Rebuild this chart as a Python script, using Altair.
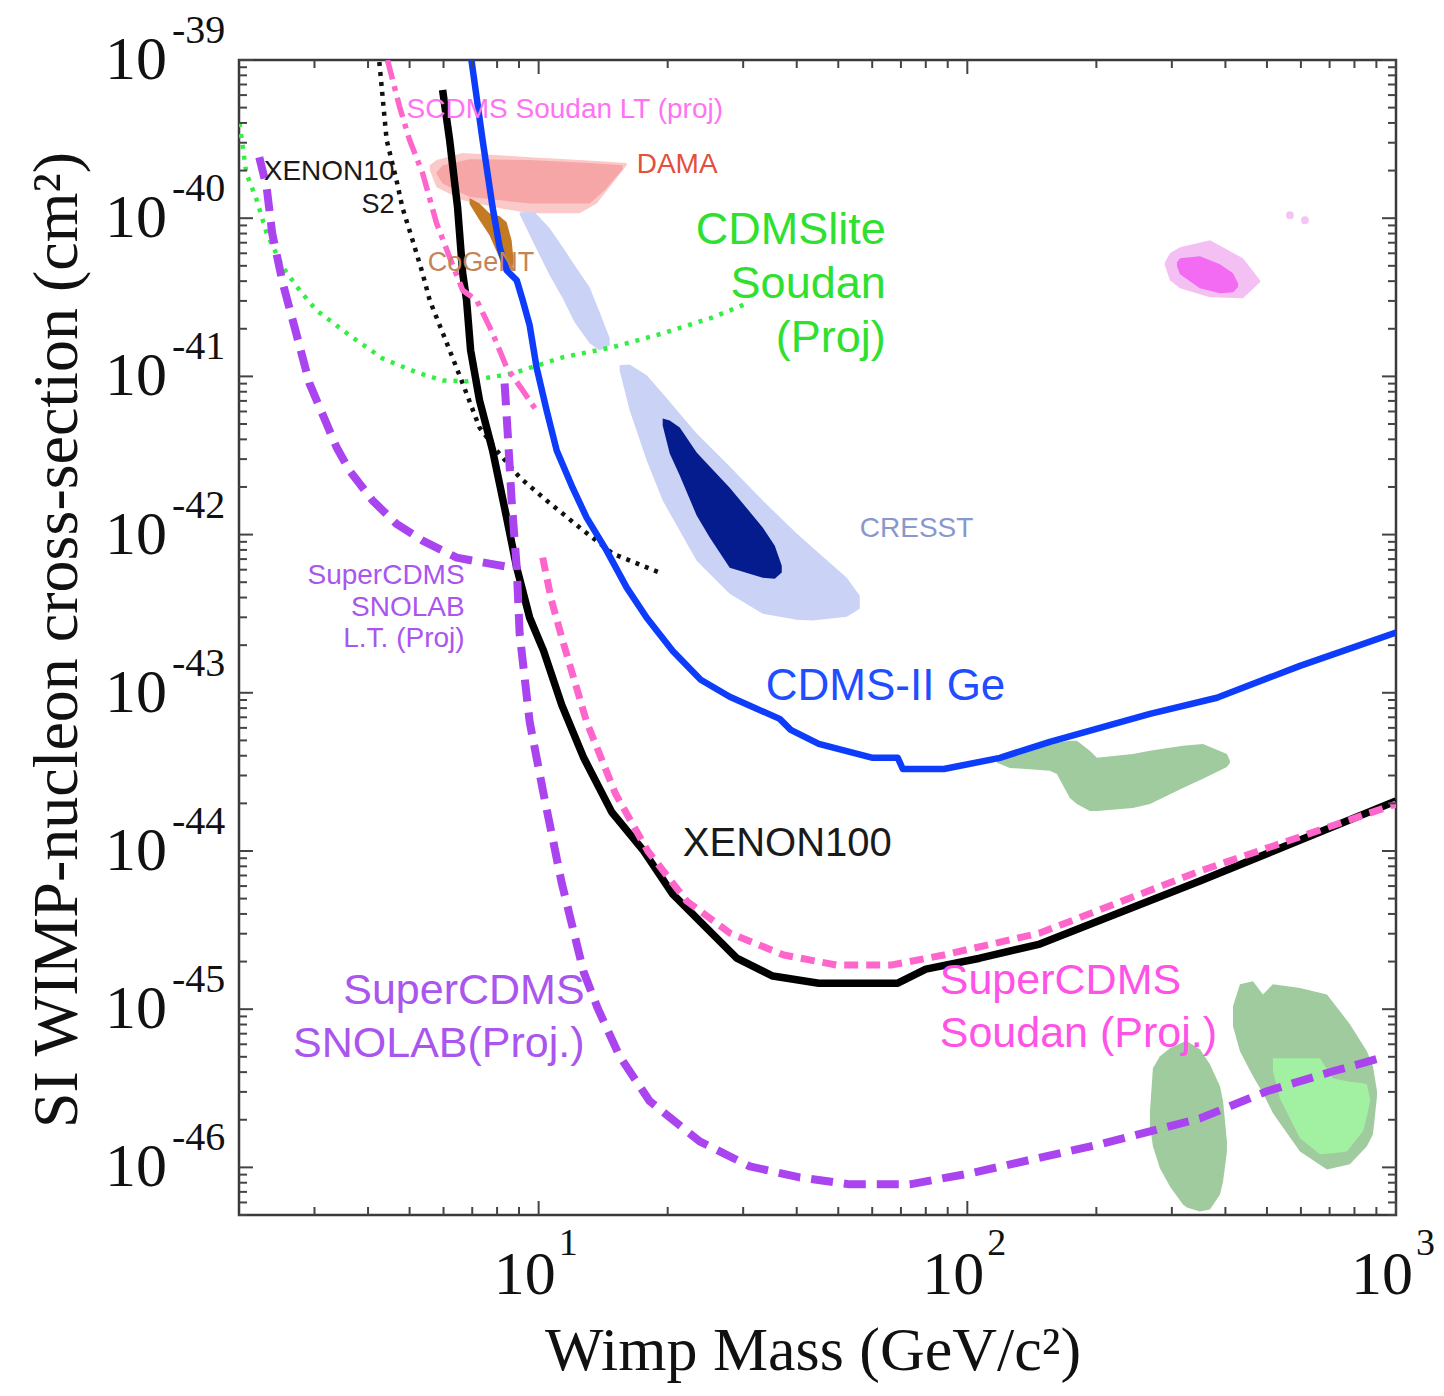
import altair as alt
import pandas as pd

# ---------------- curves: WIMP mass (GeV/c^2) and cross-section (cm^2) ----------------
cdms_ge_mass = [6.97, 7.40, 7.81, 8.11, 8.42, 8.89, 9.18, 9.53, 9.89, 10.44, 11.02, 12.00, 12.94, 14.41,
                16.05, 17.87, 20.55, 23.88, 27.91, 36.51, 38.73, 45.03, 60.18, 68.83, 70.70, 88.15, 119.1,
                155.8, 266.7, 382.2, 597.0, 1000.0]
cdms_ge_sigma = [1.0e-39, 3.12e-40, 1.17e-40, 6.55e-41, 4.69e-41, 4.05e-41, 3.03e-41, 2.10e-41, 1.14e-41,
                 6.09e-42, 3.40e-42, 1.98e-42, 1.28e-42, 7.92e-43, 4.62e-43, 2.98e-43, 1.84e-43, 1.21e-43,
                 9.43e-44, 6.84e-44, 5.83e-44, 4.75e-44, 3.88e-44, 3.88e-44, 3.30e-44, 3.30e-44, 3.88e-44,
                 4.90e-44, 7.36e-44, 9.30e-44, 1.48e-43, 2.40e-43]

xenon100_mass = [5.97, 6.20, 6.47, 6.65, 6.79, 6.94, 7.28, 7.81, 8.42, 8.89, 9.53, 10.27, 11.32, 12.74,
                 14.81, 17.58, 20.55, 23.88, 28.98, 35.17, 45.03, 68.83, 80.03, 106.9, 147.6, 348.8, 1000.0]
xenon100_sigma = [6.46e-40, 3.12e-40, 1.17e-40, 4.49e-41, 3.03e-41, 1.46e-41, 7.05e-42, 3.40e-42, 1.28e-42,
                  6.18e-43, 2.98e-43, 1.84e-43, 8.39e-44, 3.88e-44, 1.76e-44, 1.0e-44, 5.34e-45, 3.55e-45,
                  2.10e-45, 1.62e-45, 1.46e-45, 1.46e-45, 1.79e-45, 2.10e-45, 2.58e-45, 6.46e-45, 2.07e-44]

scdms_soudan_mass = [10.22, 10.72, 11.38, 12.94, 15.12, 17.97, 22.15, 27.91, 37.31, 49.59, 66.29, 88.15,
                     147.6, 348.8, 1000.0]
scdms_soudan_sigma = [7.15e-43, 3.82e-43, 2.13e-43, 6.55e-44, 2.29e-44, 1.0e-44, 4.83e-45, 3.03e-45,
                      2.20e-45, 1.90e-45, 1.90e-45, 2.20e-45, 3.03e-45, 7.47e-45, 1.98e-44]

scdms_lt_mass = [4.44, 4.74, 5.00, 5.36, 5.78, 6.20, 6.65, 7.17, 7.81, 8.42, 9.18, 9.95]
scdms_lt_sigma = [1.0e-39, 5.04e-40, 3.12e-40, 1.93e-40, 9.30e-41, 5.66e-41, 3.50e-41, 3.03e-41, 1.87e-41,
                  1.14e-41, 8.15e-42, 5.92e-42]

xenon10_mass = [4.25, 4.42, 4.66, 4.81, 5.08, 5.36, 5.57, 6.07, 6.65, 7.28, 7.98, 9.03, 10.44, 12.46,
                14.89, 19.16]
xenon10_sigma = [9.71e-40, 3.12e-40, 1.74e-40, 1.17e-40, 7.26e-41, 4.49e-41, 3.03e-41, 1.69e-41, 9.03e-42,
                 4.75e-42, 3.40e-42, 2.30e-42, 1.64e-42, 1.11e-42, 7.58e-43, 5.75e-43]

cdmslite_mass = [2.005, 2.08, 2.20, 2.32, 2.53, 2.77, 3.03, 3.62, 4.32, 5.19, 5.97, 6.79, 8.70, 11.38,
                 14.89, 19.47, 25.48, 31.08]
cdmslite_sigma = [3.99e-40, 1.93e-40, 1.30e-40, 8.04e-41, 4.90e-41, 3.50e-41, 2.62e-41, 1.82e-41, 1.30e-41,
                  1.06e-41, 9.43e-42, 9.30e-42, 1.045e-41, 1.32e-41, 1.53e-41, 1.87e-41, 2.36e-41, 2.94e-41]

snolab_lt_mass = [2.23, 2.32, 2.39, 2.53, 2.72, 2.92, 3.20, 3.38, 3.62, 4.10, 4.66, 5.36, 6.44, 7.68, 8.70]
snolab_lt_sigma = [2.43e-40, 1.57e-40, 8.04e-41, 3.88e-41, 1.87e-41, 9.03e-42, 5.04e-42, 3.55e-42, 2.54e-42,
                   1.64e-42, 1.17e-42, 9.16e-43, 7.15e-43, 6.55e-43, 6.18e-43]

snolab_mass = [8.33, 8.47, 8.65, 8.89, 9.03, 9.53, 10.27, 11.32, 12.74, 13.73, 15.45, 18.16, 23.75, 31.08,
               40.65, 53.19, 73.42, 101.3, 203.8, 348.8, 500.0, 712.9, 917.7]
snolab_sigma = [9.03e-42, 4.36e-42, 1.64e-42, 6.18e-43, 2.36e-43, 6.55e-44, 2.29e-44, 6.27e-45, 1.71e-45,
                1.015e-45, 5.04e-46, 2.62e-46, 1.46e-46, 1.015e-46, 8.64e-47, 7.81e-47, 7.81e-47, 9.16e-47,
                1.40e-46, 2.04e-46, 3.03e-46, 4.05e-46, 4.90e-46]

# ---------------- signal regions: mass, upper and lower cross-section ----------------
dama_out_mass = [5.57, 5.78, 6.65, 8.11, 9.53, 12.46, 13.66, 16.05]
dama_out_hi = [2.16e-40, 2.33e-40, 2.58e-40, 2.50e-40, 2.43e-40, 2.33e-40, 2.30e-40, 2.23e-40]
dama_out_lo = [2.01e-40, 1.57e-40, 1.30e-40, 1.157e-40, 1.075e-40, 1.075e-40, 1.24e-40, 2.16e-40]

dama_in_mass = [5.78, 5.97, 6.90, 9.53, 13.15, 14.26, 15.70]
dama_in_hi = [1.95e-40, 2.16e-40, 2.36e-40, 2.33e-40, 2.23e-40, 2.20e-40, 2.16e-40]
dama_in_lo = [1.90e-40, 1.66e-40, 1.36e-40, 1.24e-40, 1.24e-40, 1.50e-40, 2.04e-40]

cogent_mass = [6.90, 7.28, 7.68, 8.11, 8.42, 8.65, 8.74]
cogent_hi = [1.34e-40, 1.24e-40, 1.075e-40, 1.03e-40, 9.43e-41, 7.26e-41, 5.42e-41]
cogent_lo = [1.23e-40, 9.71e-41, 7.81e-41, 5.58e-41, 4.83e-41, 4.69e-41, 5.26e-41]

cresst_a_mass = [9.03, 9.79, 10.61, 11.38, 12.13, 13.15, 13.88, 14.65]
cresst_a_hi = [1.09e-40, 1.09e-40, 8.64e-41, 6.55e-41, 5.04e-41, 3.66e-41, 2.54e-41, 1.74e-41]
cresst_a_lo = [1.06e-40, 6.75e-41, 4.36e-41, 3.12e-41, 2.20e-41, 1.62e-41, 1.46e-41, 1.57e-41]

cresst_b_mass = [15.45, 16.31, 17.87, 19.47, 23.37, 27.91, 33.32, 40.01, 43.59, 52.34, 56.12]
cresst_b_hi = [1.174e-41, 1.19e-41, 1.015e-41, 7.81e-42, 4.36e-42, 2.69e-42, 1.64e-42, 1.015e-42, 8.27e-43,
               5.34e-43, 4.11e-43]
cresst_b_lo = [1.09e-41, 6.09e-42, 2.94e-42, 1.64e-42, 6.84e-43, 4.23e-43, 3.16e-43, 2.90e-43, 2.86e-43,
               3.03e-43, 3.40e-43]

cresst_c_mass = [19.47, 20.22, 21.34, 23.37, 25.07, 27.91, 33.32, 35.55, 36.91]
cresst_c_hi = [5.42e-42, 5.26e-42, 4.75e-42, 3.30e-42, 2.69e-42, 1.98e-42, 1.11e-42, 8.51e-43, 6.36e-43]
cresst_c_lo = [4.90e-42, 3.26e-42, 2.36e-42, 1.32e-42, 9.57e-43, 6.18e-43, 5.34e-43, 5.26e-43, 5.75e-43]

mag_out_mass = [289.0, 297.0, 313.4, 368.1, 439.6, 481.6]
mag_out_hi = [5.26e-41, 6.00e-41, 6.55e-41, 7.26e-41, 5.58e-41, 4.05e-41]
mag_out_lo = [5.04e-41, 4.05e-41, 3.61e-41, 3.16e-41, 3.12e-41, 3.94e-41]

mag_core_mass = [308.4, 313.4, 348.8, 388.5, 416.6, 427.9]
mag_core_hi = [5.26e-41, 5.58e-41, 5.75e-41, 5.12e-41, 4.49e-41, 3.88e-41]
mag_core_lo = [4.97e-41, 4.42e-41, 3.61e-41, 3.35e-41, 3.40e-41, 3.66e-41]

mag_dot_mass = [565.7, 613.2]
mag_dot_sigma = [1.045e-40, 9.71e-41]

grn_mid_mass = [117.2, 125.7, 155.8, 161.8, 173.4, 180.1, 193.1, 200.6, 243.3, 266.7, 318.4, 354.5, 403.3, 409.9]
grn_mid_hi = [3.71e-44, 3.88e-44, 4.75e-44, 4.83e-44, 4.97e-44, 4.97e-44, 4.30e-44, 3.88e-44, 4.11e-44,
              4.30e-44, 4.62e-44, 4.75e-44, 4.11e-44, 3.71e-44]
grn_mid_lo = [3.61e-44, 3.35e-44, 3.21e-44, 3.07e-44, 2.16e-44, 1.98e-44, 1.79e-44, 1.79e-44, 1.87e-44,
              1.98e-44, 2.50e-44, 2.86e-44, 3.40e-44, 3.61e-44]

grn_oval_mass = [266.7, 271.0, 281.4, 297.0, 318.4, 325.3, 348.8, 368.1, 388.5, 395.0, 403.3]
grn_oval_hi = [2.26e-46, 4.23e-46, 5.04e-46, 5.66e-46, 6.18e-46, 6.27e-46, 5.58e-46, 4.49e-46, 3.26e-46,
               2.62e-46, 1.46e-46]
grn_oval_lo = [1.82e-46, 1.36e-46, 9.86e-47, 7.58e-47, 5.83e-47, 5.58e-47, 5.26e-47, 5.42e-47, 6.75e-47,
               8.15e-47, 1.26e-46]

grn_right_mass = [416.6, 432.5, 463.8, 489.4, 516.4, 597.0, 690.2, 780.6, 855.3, 883.8, 903.0]
grn_right_hi = [1.045e-45, 1.44e-45, 1.504e-45, 1.24e-45, 1.44e-45, 1.36e-45, 1.24e-45, 8.04e-46, 5.42e-46,
                4.36e-46, 3.03e-46]
grn_right_lo = [7.81e-46, 5.42e-46, 3.77e-46, 2.94e-46, 2.20e-46, 1.26e-46, 9.71e-47, 1.045e-46, 1.36e-46,
                1.62e-46, 2.81e-46]

grn_light_mass = [516.4, 536.1, 597.0, 664.8, 712.9, 768.5, 837.5, 855.3, 869.6]
grn_light_hi = [4.90e-46, 4.90e-46, 4.90e-46, 4.90e-46, 3.66e-46, 3.50e-46, 3.40e-46, 3.35e-46, 2.73e-46]
grn_light_lo = [4.05e-46, 2.73e-46, 1.53e-46, 1.21e-46, 1.23e-46, 1.26e-46, 1.69e-46, 2.10e-46, 2.62e-46]

# ---------------- annotation labels ----------------
label_text = ["SCDMS Soudan LT (proj)", "DAMA", "CoGeNT", "CRESST", "CDMS-II Ge", "XENON100",
              "SuperCDMS", "Soudan (Proj.)",
              "XENON10", "S2", "CDMSlite", "Soudan", "(Proj)",
              "SuperCDMS", "SNOLAB", "L.T. (Proj)",
              "SuperCDMS", "SNOLAB(Proj.)"]
label_mass = [4.92, 16.93, 5.51, 56.12, 33.87, 21.69,
              86.25, 86.25,
              4.61, 4.61, 64.53, 64.53, 64.53,
              6.72, 6.72, 6.72,
              12.80, 12.80]
label_sigma = [4.83e-40, 2.16e-40, 5.19e-41, 1.09e-42, 1.09e-43, 1.107e-44,
               1.504e-45, 6.95e-46,
               1.95e-40, 1.21e-40, 8.39e-41, 3.82e-41, 1.74e-41,
               5.50e-43, 3.45e-43, 2.20e-43,
               1.30e-45, 6.00e-46]
label_color = ["#ff72f2", "#e2503e", "#c4845a", "#8898cc", "#1f4dff", "#1a1a1a",
               "#ff52e6", "#ff52e6",
               "#1a1a1a", "#1a1a1a", "#2fe02f", "#2fe02f", "#2fe02f",
               "#a955ee", "#a955ee", "#a955ee",
               "#a955ee", "#a955ee"]
label_size = [28, 28, 27, 28, 44, 40,
              43, 43,
              28, 27, 45, 45, 45,
              28, 28, 28,
              43, 43]
label_align = ["left"] * 8 + ["right"] * 10

y_decades = [1e-39, 1e-40, 1e-41, 1e-42, 1e-43, 1e-44, 1e-45, 1e-46]
y_decade_exp = ["-39", "-40", "-41", "-42", "-43", "-44", "-45", "-46"]
x_decades = [10, 100, 1000]
x_decade_exp = ["1", "2", "3"]
y_minor = [a * d for d in [1e-47, 1e-46, 1e-45, 1e-44, 1e-43, 1e-42, 1e-41, 1e-40]
           for a in range(2, 10) if a * d >= 5e-47]
x_minor = [a * d for d in [1, 10, 100] for a in range(2, 10) if a * d > 2]

# ---------------- chart ----------------
W, H = 1157, 1155
xs = alt.Scale(type="log", domain=[2, 1000], nice=False)
ys = alt.Scale(type="log", domain=[5e-47, 1e-39], nice=False)


def curve(mass, sigma, color, width, dash=None):
    df = pd.DataFrame({"m": mass, "s": sigma, "i": list(range(len(mass)))})
    props = dict(color=color, strokeWidth=width, clip=True, strokeCap="butt", strokeJoin="round")
    if dash is not None:
        props["strokeDash"] = dash
    return alt.Chart(df).mark_line(**props).encode(
        x=alt.X("m:Q", scale=xs, axis=None),
        y=alt.Y("s:Q", scale=ys, axis=None),
        order="i:Q",
    )


def region(mass, hi, lo, color):
    df = pd.DataFrame({"m": mass, "hi": hi, "lo": lo})
    return alt.Chart(df).mark_area(color=color, clip=True, opacity=1).encode(
        x=alt.X("m:Q", scale=xs, axis=None),
        y=alt.Y("hi:Q", scale=ys, axis=None, stack=None),
        y2="lo:Q",
    )


layers = [
    region(dama_out_mass, dama_out_hi, dama_out_lo, "#fcc9c9"),
    region(dama_in_mass, dama_in_hi, dama_in_lo, "#f6a6a6"),
    region(cogent_mass, cogent_hi, cogent_lo, "#c47a22"),
    region(cresst_a_mass, cresst_a_hi, cresst_a_lo, "#cad2f5"),
    region(cresst_b_mass, cresst_b_hi, cresst_b_lo, "#cad2f5"),
    region(cresst_c_mass, cresst_c_hi, cresst_c_lo, "#041c8e"),
    region(mag_out_mass, mag_out_hi, mag_out_lo, "#f4c0f4"),
    region(mag_core_mass, mag_core_hi, mag_core_lo, "#f36af3"),
    region(grn_mid_mass, grn_mid_hi, grn_mid_lo, "#9fcb9f"),
    region(grn_oval_mass, grn_oval_hi, grn_oval_lo, "#9fcb9f"),
    region(grn_right_mass, grn_right_hi, grn_right_lo, "#9fcb9f"),
    region(grn_light_mass, grn_light_hi, grn_light_lo, "#a2f0a2"),
    alt.Chart(pd.DataFrame({"m": mag_dot_mass, "s": mag_dot_sigma})).mark_point(
        filled=True, color="#f4c4f4", size=60, opacity=1).encode(
        x=alt.X("m:Q", scale=xs, axis=None), y=alt.Y("s:Q", scale=ys, axis=None)),
    curve(xenon10_mass, xenon10_sigma, "#111111", 4.5, [4, 6]),
    curve(cdmslite_mass, cdmslite_sigma, "#33ee44", 4.5, [4, 7]),
    curve(cdms_ge_mass, cdms_ge_sigma, "#0d3dfb", 6.5),
    curve(xenon100_mass, xenon100_sigma, "#000000", 7.5),
    curve(snolab_lt_mass, snolab_lt_sigma, "#aa44ee", 8, [22, 11]),
    curve(snolab_mass, snolab_sigma, "#aa44ee", 8, [22, 11]),
    curve(scdms_lt_mass, scdms_lt_sigma, "#ff66cc", 5.5, [20, 7, 5, 7]),
    curve(scdms_soudan_mass, scdms_soudan_sigma, "#ff66cc", 7, [14, 8]),
]

# inward ticks on all four sides
tick_color = "#444444"
ymaj = pd.DataFrame({"v": y_decades})
ymin = pd.DataFrame({"v": y_minor})
xmaj = pd.DataFrame({"v": x_decades})
xmin = pd.DataFrame({"v": x_minor})
for df, L in [(ymaj, 14), (ymin, 8)]:
    layers.append(alt.Chart(df).mark_rule(color=tick_color, strokeWidth=2).encode(
        y=alt.Y("v:Q", scale=ys, axis=None), x=alt.value(0), x2=alt.value(L)))
    layers.append(alt.Chart(df).mark_rule(color=tick_color, strokeWidth=2).encode(
        y=alt.Y("v:Q", scale=ys, axis=None), x=alt.value(W), x2=alt.value(W - L)))
for df, L in [(xmaj, 14), (xmin, 8)]:
    layers.append(alt.Chart(df).mark_rule(color=tick_color, strokeWidth=2).encode(
        x=alt.X("v:Q", scale=xs, axis=None), y=alt.value(H), y2=alt.value(H - L)))
    layers.append(alt.Chart(df).mark_rule(color=tick_color, strokeWidth=2).encode(
        x=alt.X("v:Q", scale=xs, axis=None), y=alt.value(0), y2=alt.value(L)))

# tick labels (10 with superscript exponent)
serif = "Liberation Serif"
ylab = pd.DataFrame({"v": y_decades, "e": y_decade_exp})
layers.append(alt.Chart(ylab).mark_text(font=serif, fontSize=62, align="right", baseline="middle",
                                        color="#111111").encode(
    y=alt.Y("v:Q", scale=ys, axis=None), x=alt.value(-72), text=alt.value("10")))
layers.append(alt.Chart(ylab).mark_text(font=serif, fontSize=40, align="left", baseline="middle",
                                        color="#111111", dy=-29).encode(
    y=alt.Y("v:Q", scale=ys, axis=None), x=alt.value(-67), text="e:N"))
xlab = pd.DataFrame({"v": x_decades, "e": x_decade_exp})
layers.append(alt.Chart(xlab).mark_text(font=serif, fontSize=62, align="right", baseline="middle",
                                        color="#111111", dx=17).encode(
    x=alt.X("v:Q", scale=xs, axis=None), y=alt.value(H + 60), text=alt.value("10")))
layers.append(alt.Chart(xlab).mark_text(font=serif, fontSize=38, align="left", baseline="middle",
                                        color="#111111", dx=20).encode(
    x=alt.X("v:Q", scale=xs, axis=None), y=alt.value(H + 29), text="e:N"))

# axis titles
layers.append(alt.Chart(pd.DataFrame({"t": ["Wimp Mass (GeV/c²)"]})).mark_text(
    font=serif, fontSize=62, align="center", baseline="middle", color="#111111").encode(
    x=alt.value(574), y=alt.value(H + 136), text="t:N"))
layers.append(alt.Chart(pd.DataFrame({"t": ["SI WIMP-nucleon cross-section (cm²)"]})).mark_text(
    font=serif, fontSize=64, align="center", baseline="middle", color="#111111", angle=270).encode(
    x=alt.value(-181), y=alt.value(580), text="t:N"))

# annotation labels
labels = pd.DataFrame({"t": label_text, "m": label_mass, "s": label_sigma, "c": label_color,
                       "z": label_size, "a": label_align})
for al in ["left", "right"]:
    layers.append(alt.Chart(labels[labels["a"] == al]).mark_text(
        font="Liberation Sans", align=al, baseline="middle").encode(
        x=alt.X("m:Q", scale=xs, axis=None),
        y=alt.Y("s:Q", scale=ys, axis=None),
        text="t:N",
        color=alt.Color("c:N", scale=None),
        size=alt.Size("z:Q", scale=None),
    ))

chart = alt.layer(*layers).properties(
    width=W, height=H,
    padding={"left": 231, "top": 52, "right": 40, "bottom": 170},
    autosize=alt.AutoSizeParams(type="none"),
    background="white",
).configure_view(stroke="#3a3a3a", strokeWidth=2.5)

chart.save("out.html", embed_options={"renderer": "svg", "actions": False})
